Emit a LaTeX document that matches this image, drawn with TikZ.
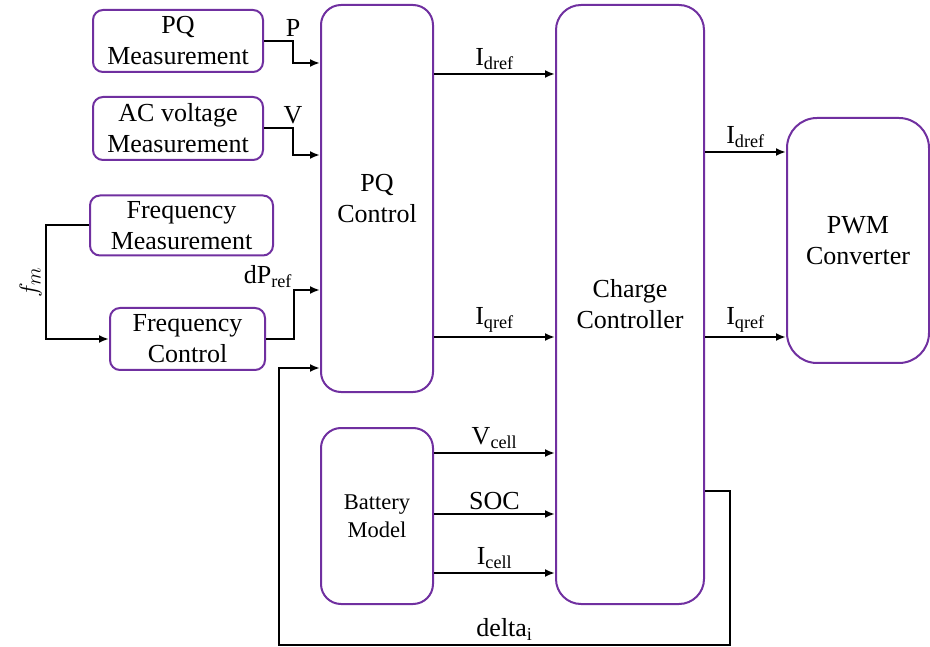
\documentclass[tikz,border=0pt]{standalone}
\usepackage{fontspec}
\setmainfont{Liberation Serif}
\usetikzlibrary{arrows.meta}

\definecolor{boxpurple}{RGB}{112,48,160}

\tikzset{
    block/.style={draw=boxpurple, line width=2pt, rounded corners=10pt,
        align=center, inner sep=0pt},
    arr/.style={line width=2pt, -{Latex[length=10pt,width=8pt]}},
}

\begin{document}
\begin{tikzpicture}[
    x=1pt,
    y=-1pt,
    font=\fontsize{26}{31}\selectfont,
]

% Frame the picture at 930 x 647
\useasboundingbox (0,0) rectangle (930,647);

% Measurement blocks
\node[block, minimum width=170, minimum height=62] (pqm) at (178,41) {PQ\\Measurement};
\node[block, minimum width=170, minimum height=63] (acm) at (178,128.5) {AC voltage\\Measurement};
\node[block, minimum width=183, minimum height=60] (fm) at (181.5,225.5) {Frequency\\Measurement};
\node[block, minimum width=155, minimum height=62] (fc) at (187.5,339) {Frequency\\Control};

% Control blocks
\node[block, rounded corners=20pt, minimum width=112, minimum height=387] (pqc) at (377,198.5) {PQ\\Control};
\node[block, rounded corners=20pt, minimum width=112, minimum height=176,
    font=\fontsize{22.5}{28}\selectfont] (bm) at (377,516) {Battery\\Model};
\node[block, rounded corners=25pt, minimum width=148, minimum height=599] (cc) at (630,304.5) {Charge\\Controller};
\node[block, rounded corners=30pt, minimum width=142, minimum height=245] (pwm) at (858,240.5) {PWM\\Converter};

% Inputs of the PQ control
\draw[arr] (pqm.east) -- ++(29,0) node[above] {P} |- (pqc.west |- 0,63);
\draw[arr] (acm.east) -- ++(29,0) node[above] {V} |- (pqc.west |- 0,155);
\draw[arr] (fm.west) -- ++(-43,0) |- node[pos=0.25, rotate=90, above, font=\fontsize{28}{31}\selectfont] {$f_m$} (fc.west);
\draw[arr] (fc.east) -- ++(28,0) |- node[pos=0.5, anchor=south east, inner sep=1pt] {dP\textsubscript{ref}} (pqc.west |- 0,290);

% PQ control to charge controller
\draw[arr] (pqc.east |- 0,74) -- node[above] {I\textsubscript{dref}} (cc.west |- 0,74);
\draw[arr] (pqc.east |- 0,337) -- node[above] {I\textsubscript{qref}} (cc.west |- 0,337);

% Battery model to charge controller
\draw[arr] (bm.east |- 0,453) -- node[above] {V\textsubscript{cell}} (cc.west |- 0,453);
\draw[arr] (bm.east |- 0,514) -- node[above] {SOC} (cc.west |- 0,514);
\draw[arr] (bm.east |- 0,573) -- node[above] {I\textsubscript{cell}} (cc.west |- 0,573);

% Charge controller to PWM converter
\draw[arr] (cc.east |- 0,152) -- node[above] {I\textsubscript{dref}} (pwm.west |- 0,152);
\draw[arr] (cc.east |- 0,337) -- node[above] {I\textsubscript{qref}} (pwm.west |- 0,337);

% Feedback loop
\coordinate (fbr) at (730,645);
\coordinate (fbl) at (279,645);
\draw[arr] (cc.east |- 0,491) -| (fbr) -- node[above] {delta\textsubscript{i}} (fbl) |- (pqc.west |- 0,368);

\end{tikzpicture}
\end{document}
